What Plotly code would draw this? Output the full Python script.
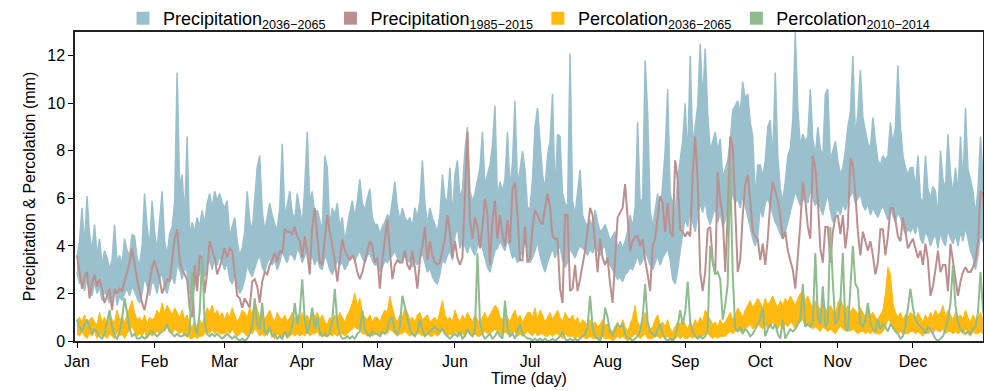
import plotly.graph_objects as go

# ---- daily series (day of year 0..364), one line per month ----
precip_future_high = (
    [3.5,4.2,5.6,4.0,6.1,4.5,3.8,4.9,3.6,4.3,3.2,3.8,3.5,3.0,3.4,4.9,3.3,3.6,3.2,4.3,3.8,3.6,4.5,4.4,3.5,3.2,4.0,6.2,4.8,4.0,5.9]
    + [4.6,3.8,5.0,6.3,4.2,3.6,4.5,4.8,5.8,11.3,6.5,7.0,5.2,8.6,4.4,5.0,4.6,5.2,4.8,5.5,4.9,5.8,6.2,5.6,6.3,5.9,6.2,5.8]
    + [5.6,5.9,4.4,4.8,5.2,4.2,3.6,3.9,4.6,6.3,5.1,4.6,6.0,7.3,7.8,5.5,4.6,5.2,5.8,5.3,4.9,4.7,5.6,8.3,5.3,5.7,6.3,5.4,5.1,6.2,5.6]
    + [4.9,6.5,8.8,5.8,6.3,5.3,5.5,5.1,4.6,7.8,7.3,4.8,5.6,5.3,5.8,4.8,5.2,4.2,4.9,5.4,5.9,5.2,5.9,6.8,5.8,5.5,6.0,6.4,5.2,4.9]
    + [4.9,4.5,4.8,5.0,5.3,5.2,5.9,6.7,5.6,5.1,5.6,5.2,5.0,5.2,4.8,5.6,5.2,5.9,7.6,5.8,4.9,5.6,5.2,4.9,4.6,5.3,7.0,6.0,5.9,7.3,5.2]
    + [7.0,7.6,6.0,6.4,8.0,9.0,6.3,5.9,6.2,6.8,7.3,8.8,6.5,7.0,7.4,8.2,9.9,6.0,6.7,6.3,6.8,8.8,6.4,7.5,10.1,6.6,7.2,8.0,7.2,5.6]
    + [5.6,6.8,9.0,9.8,8.2,7.0,6.4,7.8,8.4,10.4,6.2,8.7,8.6,6.2,5.8,5.6,12.1,5.9,5.3,6.4,7.2,5.3,5.0,4.8,5.1,4.8,5.5,5.0,4.6,4.7,4.9]
    + [4.6,4.2,4.4,4.6,3.9,4.2,3.9,4.2,4.6,5.3,4.8,5.6,9.2,5.8,6.0,11.8,9.6,5.5,4.8,5.6,6.2,5.2,6.5,8.0,10.6,6.2,5.8,5.3,6.8,7.6,8.4]
    + [10.0,7.6,12.0,8.3,9.0,9.9,12.5,10.1,12.3,9.6,8.0,8.4,8.8,8.0,8.5,6.9,7.2,7.6,8.4,9.7,9.9,10.1,9.6,10.9,10.2,10.4,9.2,8.6,6.0,7.4]
    + [7.4,6.9,7.6,9.0,9.3,7.6,11.3,7.8,6.4,5.9,6.7,7.8,8.1,9.3,13.0,9.8,8.2,8.7,8.4,8.6,10.6,8.5,7.8,9.0,8.1,7.7,10.4,10.6,7.6,8.0,8.4]
    + [7.6,7.0,7.3,8.0,9.0,9.6,12.0,8.6,9.6,11.4,9.4,8.8,8.3,8.1,9.4,8.4,7.6,7.4,7.8,7.6,7.8,9.2,8.3,9.0,11.6,9.0,7.8,7.3,7.0,7.3]
    + [7.3,6.4,7.8,6.0,5.8,7.8,6.4,6.0,6.5,6.3,5.2,8.0,6.8,6.4,8.7,7.0,6.2,7.3,6.2,8.6,6.6,9.8,7.2,6.8,6.3,5.3,6.4,8.6,7.0,6.4,6.0]
)

precip_future_low = (
    [2.9,2.4,2.7,2.1,2.6,2.2,1.9,2.5,2.0,2.3,1.7,2.1,1.9,1.6,1.8,2.4,1.5,1.9,1.7,2.0,2.2,1.9,2.3,2.1,1.8,1.6,2.0,2.7,2.3,1.9,2.5]
    + [2.4,2.0,2.6,2.9,2.2,2.0,2.5,2.7,2.4,3.2,3.0,2.6,3.1,2.9,2.0,1.8,2.3,2.6,2.8,3.0,2.7,3.2,3.4,3.0,3.5,3.2,3.6,3.3]
    + [3.0,3.3,2.6,2.4,2.8,2.3,2.0,2.2,2.6,3.2,2.9,2.7,3.1,3.4,3.6,3.1,2.9,3.3,3.5,3.2,3.4,3.0,3.3,3.8,3.5,3.3,3.7,3.6,3.4,3.9,3.7]
    + [3.3,3.6,3.9,3.4,3.6,3.2,3.5,3.1,3.0,3.6,3.4,3.0,2.8,3.1,3.4,3.2,3.3,3.0,3.2,3.5,3.7,3.4,3.6,3.8,3.5,3.3,3.6,3.7,3.4,3.2]
    + [3.2,2.9,3.1,3.4,3.3,3.5,3.6,3.8,3.5,3.3,3.4,3.6,3.3,3.4,3.1,3.4,3.2,3.5,3.7,3.3,2.9,3.1,2.7,2.5,2.4,2.8,3.4,3.3,3.6,3.8,3.4]
    + [4.4,4.8,3.9,4.2,4.0,3.7,4.1,3.8,3.6,4.0,4.2,3.9,3.5,3.1,2.9,3.4,3.8,3.9,4.2,4.0,3.8,4.3,3.9,3.5,3.6,3.3,3.5,3.9,4.2,3.8]
    + [3.3,3.5,3.8,4.2,3.6,3.2,2.9,3.3,3.6,3.9,3.5,3.8,4.0,3.4,3.1,3.3,3.9,3.7,3.5,3.8,4.0,3.9,3.8,3.6,3.9,3.7,4.0,3.8,3.6,3.9,4.0]
    + [3.4,3.2,3.0,2.8,2.6,2.7,2.5,2.8,2.9,3.1,3.0,3.3,3.6,3.2,3.4,3.8,3.5,3.2,3.0,3.3,3.6,3.2,3.5,3.7,3.9,3.4,2.6,2.4,3.0,3.8,4.5]
    + [5.2,4.8,5.5,5.0,4.6,5.3,5.8,5.4,5.9,5.2,4.9,5.3,5.6,5.0,5.4,4.8,5.1,5.5,5.9,6.2,5.8,6.0,5.6,6.1,5.7,5.2,4.8,4.3,4.0,4.4]
    + [5.6,5.2,5.8,6.0,5.7,5.3,5.0,4.8,4.5,4.3,4.6,5.0,5.4,5.8,6.3,6.0,5.7,5.9,6.1,5.8,6.4,6.0,5.7,5.9,5.6,5.3,5.8,6.2,5.5,5.0,5.3]
    + [5.6,5.3,5.8,5.5,5.9,6.1,6.3,5.8,6.0,6.2,5.7,5.5,5.8,5.3,5.6,5.4,5.2,5.5,5.7,5.4,5.1,5.6,5.3,5.0,5.4,5.2,4.8,4.5,4.7,4.6]
    + [4.8,4.5,5.0,4.3,4.1,4.6,4.4,4.0,4.3,4.5,3.9,4.6,4.2,4.0,4.7,4.3,4.1,4.5,4.0,4.6,4.2,4.8,4.3,3.8,3.5,3.0,3.6,4.5,4.2,4.0,3.8]
)

precip_hist = (
    [3.6,2.9,2.2,2.7,2.9,1.8,2.4,2.8,2.3,2.6,2.2,1.6,1.9,2.2,1.3,2.2,2.0,2.2,2.1,2.5,2.9,3.3,3.9,3.2,2.6,2.1,1.6,1.3,1.9,2.6,3.1]
    + [3.4,3.0,2.6,2.0,2.3,2.6,2.5,3.3,4.3,4.7,3.4,3.0,2.8,2.6,1.4,1.0,3.2,2.1,3.6,3.5,2.0,2.9,4.2,3.8,3.5,2.8,3.1,3.5]
    + [3.9,3.5,3.9,3.8,2.8,1.9,1.8,1.4,1.8,1.6,1.4,2.5,2.6,2.3,1.6,2.5,2.9,2.8,3.2,3.4,3.7,3.3,3.8,3.7,4.7,4.6,4.6,4.5,4.8,4.4,4.2]
    + [3.5,4.4,3.7,2.8,4.8,5.6,4.4,3.3,3.2,4.3,5.3,4.6,4.0,3.4,2.5,3.3,4.3,3.8,3.6,3.4,3.6,3.4,2.9,2.6,2.9,3.3,3.8,4.2,4.0,3.3]
    + [3.5,2.2,3.4,4.3,5.1,3.8,2.6,3.2,3.4,3.3,3.3,3.8,3.2,3.0,3.8,3.1,2.2,3.4,4.0,4.8,3.4,4.2,3.6,3.3,3.2,3.3,3.8,4.3,5.3,4.6,3.5]
    + [4.2,3.5,3.2,3.5,6.0,8.8,5.1,4.3,5.2,4.8,3.9,4.8,6.0,5.3,3.2,5.1,5.9,4.3,5.3,4.5,4.0,5.1,4.1,6.4,6.7,5.3,3.4,3.4,4.8,3.3]
    + [3.5,4.8,5.5,5.3,5.0,4.9,5.6,6.2,5.6,4.4,4.3,4.3,2.2,1.6,5.3,5.3,2.1,2.2,3.2,2.1,2.6,3.2,3.8,4.7,5.6,5.3,3.9,2.9,4.3,3.5,3.2]
    + [3.5,2.4,1.6,3.4,5.2,5.4,5.6,6.6,5.1,3.8,4.2,4.4,4.4,4.0,4.3,3.4,2.8,2.1,4.0,4.3,5.2,6.1,5.8,4.6,5.8,4.6,4.4,7.6,6.8,4.7,4.6]
    + [4.4,4.6,4.4,7.0,8.6,6.8,2.9,2.1,2.9,4.7,4.8,3.4,2.8,7.1,5.9,5.3,2.9,5.3,8.6,8.2,5.3,2.9,3.4,5.3,6.6,7.0,5.9,4.6,4.4,4.3]
    + [3.4,4.1,3.2,4.3,5.8,6.7,6.3,5.9,5.3,4.3,4.6,3.8,3.4,3.0,2.2,3.4,4.9,6.7,5.9,4.8,4.3,7.8,7.3,5.9,3.9,3.3,4.8,4.8,3.3,4.6,5.2]
    + [5.3,4.5,5.3,3.9,4.8,7.7,7.4,6.2,4.6,3.6,4.6,4.2,3.8,4.2,3.6,2.8,3.3,4.7,4.7,3.6,4.4,5.6,5.6,5.1,4.4,4.2,5.2,4.6,3.9,4.1]
    + [4.3,3.9,3.5,3.8,3.2,4.1,3.4,1.9,2.3,3.0,3.8,2.9,3.2,3.2,2.1,4.1,3.4,2.5,1.9,2.5,2.9,3.1,2.9,2.9,3.1,3.4,4.2,6.3,6.2,5.0,4.2]
)

perc_future_high = (
    [0.9,1.0,0.8,1.1,0.7,0.9,1.0,0.8,0.7,1.2,0.8,1.0,0.7,1.1,0.9,0.8,1.3,0.9,1.0,0.8,1.1,1.4,1.7,1.2,0.9,1.0,0.8,1.1,0.7,1.0,0.9]
    + [1.0,1.3,1.1,1.6,1.2,1.5,1.3,1.1,1.4,1.2,1.0,1.3,0.9,1.1,0.7,0.6,0.8,0.6,0.9,0.7,1.0,1.4,1.2,1.5,1.1,1.3,1.0,1.2]
    + [0.9,1.2,1.0,1.4,1.1,0.8,1.0,1.3,1.2,1.0,1.4,1.1,1.7,1.3,1.0,1.2,0.9,1.1,1.3,1.0,0.8,1.2,1.0,0.9,1.1,0.8,1.0,1.2,0.9,1.1,1.0]
    + [1.2,0.9,1.1,0.8,1.3,1.0,1.2,0.9,1.1,0.8,0.7,1.0,0.8,1.1,0.9,1.2,1.0,0.8,1.1,1.3,1.6,2.0,1.5,1.8,1.2,1.0,0.9,1.1,0.8,1.0]
    + [1.0,0.8,1.1,1.3,1.2,1.9,1.4,1.0,0.8,1.1,1.0,1.4,1.2,0.9,1.0,0.8,1.1,1.2,0.9,1.0,1.1,0.8,0.9,1.0,0.8,1.2,1.7,1.1,0.9,1.0,0.8]
    + [1.3,1.0,0.8,1.1,0.9,1.2,1.0,0.8,1.1,0.9,0.7,1.0,1.2,0.9,1.1,1.3,1.5,1.4,1.0,0.9,1.2,1.0,0.8,1.1,1.3,0.9,1.1,0.8,1.0,1.2]
    + [1.2,1.0,1.4,0.9,1.3,1.1,0.8,1.0,1.2,0.9,1.1,1.3,1.0,0.8,1.2,1.0,0.9,1.1,0.8,1.0,0.7,0.9,0.8,0.6,0.9,0.7,0.8,0.6,0.7,0.9,0.7]
    + [0.7,0.5,0.4,0.6,0.8,0.5,0.9,0.6,0.4,0.7,1.0,1.5,0.8,0.6,0.9,1.2,0.7,0.5,0.6,0.9,1.1,0.7,0.8,0.6,0.9,0.5,0.4,0.6,0.8,0.7,0.9]
    + [0.7,0.5,0.8,0.6,0.9,0.7,1.0,0.8,1.3,1.1,0.9,0.7,0.8,0.6,0.9,0.7,0.8,1.0,1.2,0.9,1.1,1.4,1.2,1.0,1.3,1.5,1.7,1.4,1.6,1.8]
    + [1.6,1.4,1.8,1.5,1.7,1.9,1.6,1.4,1.7,1.5,1.8,1.6,1.9,1.7,1.5,1.8,2.0,2.1,1.7,1.9,1.6,1.4,1.7,1.5,1.3,1.6,1.4,1.2,1.5,1.3,1.1]
    + [1.6,1.8,1.5,1.3,1.5,1.2,1.4,1.3,1.1,1.4,1.2,1.0,1.3,1.1,1.2,1.0,0.9,1.1,1.3,2.0,3.1,2.8,1.6,1.2,1.0,1.2,0.9,1.1,1.0,1.2]
    + [1.1,0.9,1.2,1.0,0.8,1.1,0.9,1.2,1.0,1.3,1.1,1.2,1.5,1.0,1.3,1.1,0.9,1.2,1.0,1.1,0.9,1.3,1.0,0.8,1.1,0.9,1.0,1.2,0.9,1.1,1.0]
)

perc_future_low = (
    [0.3,0.2,0.4,0.2,0.1,0.3,0.2,0.4,0.1,0.3,0.2,0.2,0.1,0.3,0.2,0.1,0.4,0.2,0.3,0.1,0.3,0.5,0.6,0.4,0.2,0.3,0.2,0.4,0.1,0.3,0.2]
    + [0.3,0.4,0.3,0.5,0.4,0.6,0.4,0.3,0.5,0.4,0.3,0.4,0.2,0.3,0.1,0.1,0.2,0.1,0.2,0.2,0.3,0.4,0.3,0.5,0.3,0.4,0.3,0.3]
    + [0.3,0.4,0.3,0.5,0.3,0.2,0.3,0.4,0.3,0.2,0.4,0.3,0.5,0.4,0.2,0.3,0.2,0.3,0.4,0.2,0.1,0.3,0.2,0.2,0.3,0.1,0.2,0.3,0.2,0.3,0.2]
    + [0.3,0.2,0.4,0.2,0.3,0.3,0.4,0.2,0.3,0.2,0.2,0.3,0.2,0.3,0.2,0.3,0.3,0.2,0.3,0.4,0.5,0.6,0.5,0.5,0.3,0.3,0.2,0.3,0.2,0.3]
    + [0.3,0.2,0.3,0.4,0.3,0.5,0.4,0.3,0.2,0.3,0.3,0.4,0.3,0.2,0.3,0.2,0.3,0.3,0.2,0.3,0.3,0.2,0.2,0.3,0.2,0.3,0.5,0.3,0.2,0.3,0.2]
    + [0.4,0.3,0.2,0.3,0.2,0.4,0.3,0.2,0.3,0.2,0.2,0.3,0.4,0.3,0.3,0.4,0.5,0.4,0.3,0.2,0.4,0.3,0.2,0.3,0.4,0.2,0.3,0.2,0.3,0.4]
    + [0.3,0.2,0.4,0.2,0.3,0.3,0.2,0.2,0.3,0.2,0.3,0.3,0.2,0.1,0.3,0.2,0.2,0.2,0.1,0.2,0.1,0.2,0.1,0.1,0.2,0.1,0.1,0.1,0.1,0.2,0.1]
    + [0.1,0.1,0.0,0.1,0.2,0.1,0.2,0.1,0.0,0.1,0.2,0.3,0.2,0.1,0.2,0.3,0.1,0.1,0.1,0.2,0.2,0.1,0.2,0.1,0.2,0.1,0.0,0.1,0.2,0.1,0.2]
    + [0.1,0.1,0.2,0.1,0.2,0.1,0.2,0.2,0.3,0.3,0.2,0.1,0.2,0.1,0.2,0.2,0.2,0.3,0.4,0.3,0.4,0.5,0.4,0.3,0.5,0.6,0.7,0.5,0.6,0.7]
    + [0.6,0.5,0.7,0.5,0.6,0.8,0.6,0.5,0.7,0.5,0.7,0.6,0.8,0.7,0.5,0.7,0.8,0.9,0.6,0.7,0.6,0.5,0.6,0.5,0.4,0.6,0.5,0.4,0.5,0.4,0.3]
    + [0.5,0.6,0.5,0.4,0.5,0.4,0.5,0.4,0.3,0.4,0.4,0.3,0.4,0.3,0.4,0.3,0.3,0.3,0.4,0.6,0.9,0.8,0.5,0.4,0.3,0.4,0.3,0.3,0.3,0.4]
    + [0.4,0.3,0.4,0.3,0.2,0.4,0.3,0.4,0.3,0.5,0.4,0.4,0.5,0.3,0.4,0.4,0.3,0.4,0.3,0.4,0.3,0.5,0.3,0.2,0.4,0.3,0.3,0.4,0.3,0.4,0.3]
)

perc_hist = (
    [0.9,0.6,0.4,0.7,0.9,0.6,0.3,0.5,0.4,0.2,0.1,0.3,0.8,1.3,0.6,0.2,0.1,0.4,0.9,1.8,1.2,0.5,0.2,0.3,0.1,0.1,0.2,0.1,0.2,0.3,0.4]
    + [0.3,0.2,0.3,0.4,0.5,0.7,0.4,0.3,0.2,0.3,0.2,0.2,0.3,0.2,0.4,2.9,0.6,0.3,1.2,3.5,0.8,0.3,0.2,0.3,0.2,0.3,0.2,0.1]
    + [0.2,0.3,0.2,0.1,0.2,0.1,0.0,0.1,0.0,0.1,0.3,0.6,1.8,0.7,0.5,1.6,0.4,0.3,0.6,0.2,0.3,0.1,0.2,0.1,0.4,0.2,0.3,0.6,1.6,0.7,1.2]
    + [2.6,0.9,0.3,0.7,1.4,0.5,1.0,0.4,0.2,0.3,0.2,0.3,0.9,2.2,0.8,0.3,0.1,0.1,0.2,0.1,0.2,0.1,0.3,0.4,1.3,0.5,0.3,0.2,0.4,0.3]
    + [0.3,0.2,0.4,0.3,0.5,0.9,1.0,0.4,0.3,0.6,1.9,1.4,0.9,0.5,0.3,0.2,0.4,0.9,0.5,0.2,0.3,0.4,0.5,0.6,0.5,0.4,0.5,0.3,0.2,0.1,0.2]
    + [0.3,0.2,0.4,0.1,0.2,0.5,0.3,0.2,0.4,3.7,0.8,0.3,0.1,0.2,0.3,0.1,0.2,0.4,0.2,0.1,1.7,0.6,0.2,0.3,0.1,0.4,0.7,0.3,0.2,0.1]
    + [0.1,0.0,0.1,0.0,0.1,0.0,0.1,0.0,0.0,0.1,0.0,0.1,0.2,0.4,0.1,0.0,0.1,0.0,0.1,0.0,0.1,0.2,0.3,0.6,1.9,0.6,0.2,0.1,0.0,0.3,1.4]
    + [1.0,0.4,0.2,0.5,0.7,0.6,0.7,0.3,0.1,0.1,0.0,0.1,0.2,0.4,1.0,2.4,0.8,0.4,0.3,0.2,0.5,0.7,0.3,0.1,0.0,0.1,0.0,0.2,0.6,1.3,0.7]
    + [1.2,2.5,0.8,0.4,0.2,0.1,0.2,0.1,0.2,0.5,4.0,3.3,2.8,2.9,2.6,0.9,1.5,2.4,7.4,2.8,0.5,0.4,0.6,0.3,0.5,0.4,0.2,0.3,0.5,0.7]
    + [0.9,1.4,0.2,0.5,0.7,0.5,0.7,0.3,0.1,0.9,0.1,0.3,0.5,0.4,0.5,0.7,0.9,2.4,0.6,0.7,0.6,0.8,3.7,1.0,0.7,2.3,0.6,0.8,4.8,2.5,0.7]
    + [0.9,1.6,3.7,0.6,0.4,2.2,4.0,2.4,2.2,0.7,0.6,0.9,1.6,0.8,0.5,0.4,0.9,0.5,0.7,0.6,0.4,0.7,0.6,0.4,0.3,0.1,0.2,0.6,1.3,2.2]
    + [1.4,0.9,0.7,0.6,0.5,0.3,0.6,0.5,0.3,0.1,0.0,0.1,0.2,0.5,0.9,1.6,3.2,1.5,0.8,0.5,0.4,0.3,0.4,0.3,0.5,0.6,1.2,2.9,1.3,0.8,0.6]
)

month_labels = ["Jan", "Feb", "Mar", "Apr", "May", "Jun",
                "Jul", "Aug", "Sep", "Oct", "Nov", "Dec"]
month_first_day = [0, 31, 59, 90, 120, 151, 181, 212, 243, 273, 304, 334]

series = [precip_future_high, precip_future_low, precip_hist,
          perc_future_high, perc_future_low, perc_hist]
for s in series:
    assert len(s) == 365, len(s)
days = list(range(365))

C_PF = "#9AC0CD"   # lightblue3
C_PH = "#BC8F8F"   # rosybrown
C_QF = "#FFB90F"   # darkgoldenrod1
C_QH = "#8FBC8F"   # darkseagreen

FONT = "Liberation Sans, Arial, sans-serif"

fig = go.Figure()

# future precipitation envelope
fig.add_trace(go.Scatter(x=days, y=precip_future_low, mode="lines",
                         line=dict(color=C_PF, width=1.5), showlegend=False,
                         hoverinfo="skip"))
fig.add_trace(go.Scatter(x=days, y=precip_future_high, mode="lines",
                         line=dict(color=C_PF, width=1.5), fill="tonexty",
                         fillcolor=C_PF, showlegend=False))
# historical precipitation
fig.add_trace(go.Scatter(x=days, y=precip_hist, mode="lines",
                         line=dict(color=C_PH, width=2), showlegend=False))
# future percolation envelope
fig.add_trace(go.Scatter(x=days, y=perc_future_low, mode="lines",
                         line=dict(color=C_QF, width=1), showlegend=False,
                         hoverinfo="skip"))
fig.add_trace(go.Scatter(x=days, y=perc_future_high, mode="lines",
                         line=dict(color=C_QF, width=1), fill="tonexty",
                         fillcolor=C_QF, showlegend=False))
# observed percolation
fig.add_trace(go.Scatter(x=days, y=perc_hist, mode="lines",
                         line=dict(color=C_QH, width=2), showlegend=False))

# legend entries drawn as filled squares
legend_items = [
    ("Precipitation<sub>2036\u22122065</sub>", C_PF),
    ("Precipitation<sub>1985\u22122015</sub>", C_PH),
    ("Percolation<sub>2036\u22122065</sub>", C_QF),
    ("Percolation<sub>2010\u22122014</sub>", C_QH),
]
for name, col in legend_items:
    fig.add_trace(go.Scatter(x=[None], y=[None], mode="markers", name=name,
                             marker=dict(symbol="square", size=13, color=col)))

fig.update_layout(
    width=984, height=391,
    margin=dict(l=75, r=1, t=32, b=50, autoexpand=False),
    paper_bgcolor="white", plot_bgcolor="white",
    font=dict(family=FONT, size=16, color="black"),
    legend=dict(orientation="h", x=0.5, xanchor="center",
                yref="container", y=1.0, yanchor="top",
                font=dict(size=18), itemwidth=30,
                traceorder="normal", tracegroupgap=0,
                bgcolor="rgba(0,0,0,0)"),
    showlegend=True,
)
fig.update_xaxes(range=[-0.8, 362], tickmode="array",
                 tickvals=month_first_day, ticktext=month_labels,
                 ticks="outside", ticklen=5, tickwidth=1.2, tickcolor="black",
                 showline=True, linecolor="#222222", linewidth=1.5, mirror=True,
                 showgrid=False, zeroline=False,
                 tickfont=dict(size=16),
                 title=dict(text="Time (day)", font=dict(size=16), standoff=4))
fig.update_yaxes(range=[0, 13], tickmode="array",
                 tickvals=[0, 2, 4, 6, 8, 10, 12],
                 ticks="outside", ticklen=5, tickwidth=1.2, tickcolor="black",
                 showline=True, linecolor="#222222", linewidth=1.5, mirror=True,
                 showgrid=False, zeroline=False,
                 tickfont=dict(size=16),
                 title=dict(text="Precipitation & Percolation (mm)",
                            font=dict(size=16), standoff=8))

fig.write_html("out.html")
